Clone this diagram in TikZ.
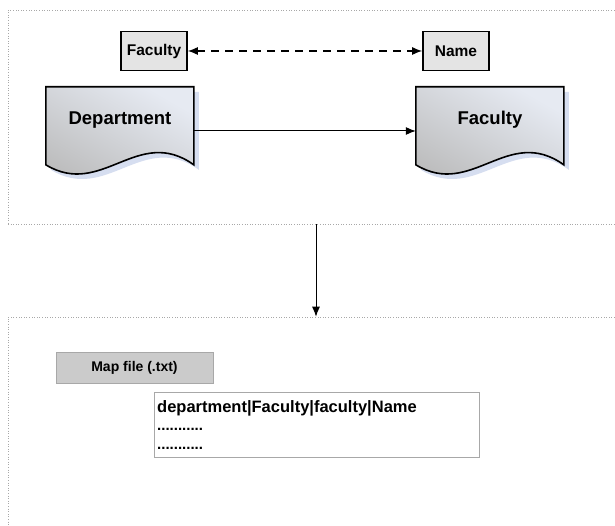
\documentclass[tikz,border=0pt]{standalone}
\usepackage{fontspec}
\setmainfont{Liberation Sans}
\usetikzlibrary{arrows.meta,backgrounds}
\definecolor{panelline}{HTML}{A8A8A8}
\definecolor{doclight}{HTML}{E6EAF2}
\definecolor{docdark}{HTML}{BABABA}
\definecolor{docshadow}{HTML}{D6DEF0}
\definecolor{keyfill}{HTML}{E4E4E4}
\definecolor{mapfill}{HTML}{CBCBCB}
\tikzset{
    panel/.style={draw=panelline,dotted,line width=0.6pt,minimum width=616pt},
    keybox/.style={draw,line width=1.6pt,fill=keyfill,font=\bfseries\fontsize{15.5}{17}\selectfont,
        minimum width=66pt,minimum height=39pt,inner sep=0pt},
    docbox/.style={minimum width=148pt,minimum height=66pt,inner sep=0pt,
        font=\bfseries\fontsize{18.5}{20}\selectfont},
    maptitle/.style={draw=panelline,fill=mapfill,minimum width=157pt,minimum height=31pt,
        font=\bfseries\fontsize{14}{16}\selectfont},
    maptext/.style={draw=panelline,fill=white,text width=319pt,minimum height=65pt,
        inner sep=3pt,align=left,font=\bfseries\fontsize{16.5}{19}\selectfont},
    >={Latex[length=10pt,width=8pt]}
}
\begin{document}
\begin{tikzpicture}[x=1pt,y=-1pt]
    \useasboundingbox (0,0) rectangle (615,526);
    %% panels
    \node[panel,minimum height=214pt] (toppanel) at (316,117) {};
    \node[panel,minimum height=230pt] (botpanel) at (316,432) {};
    %% key fields
    \node[keybox] (facultykey) at (154,51) {Faculty};
    \node[keybox] (namekey) at (456,51) {Name};
    \draw[dashed,dash pattern=on 8pt off 6pt,line width=1.3pt,<->] (facultykey) -- (namekey);
    %% documents
    \node[docbox] (dept) at (120,120) {Department};
    \node[docbox] (fac) at (490,120) {Faculty};
    \begin{scope}[on background layer]
    \foreach \n in {dept,fac} {
        \begin{scope}[shift={(\n.north west)}]
            \fill[docshadow] (5,5) -- (153,5) -- (153,83)
                .. controls (97,43) and (61,117) .. (5,83) -- cycle;
            \draw[line width=1.6pt,top color=doclight,bottom color=docdark,shading angle=-30]
                (0,0) -- (148,0) -- (148,78)
                .. controls (92,38) and (56,112) .. (0,78) -- cycle;
        \end{scope}
    }
    \end{scope}
    \draw[line width=1pt,->] ([yshift=-11pt]dept.east) -- ([yshift=-11pt]fac.west);
    %% to map file
    \draw[line width=1pt,->] (toppanel.south) -- (botpanel.north);
    \node[maptitle] (mapfile) at (134.5,367.5) {Map file (.txt)};
    \node[maptext,anchor=north west] (mapbody) at (154,392)
        {department|Faculty|faculty|Name\\[1pt]
         \fontsize{15}{17}\selectfont...........\\[0pt]
         \fontsize{15}{17}\selectfont...........};
\end{tikzpicture}
\end{document}
